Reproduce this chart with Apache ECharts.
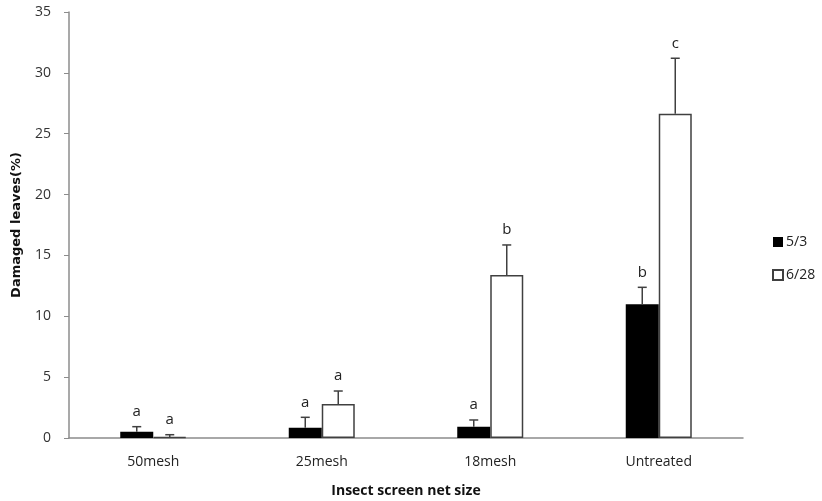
<!DOCTYPE html>
<html>
<head>
<meta charset="utf-8">
<script src="https://cdn.jsdelivr.net/npm/echarts@6/dist/echarts.min.js"></script>
<style>
  html, body { margin: 0; padding: 0; background: #fff; }
  #chart { width: 822px; height: 501px; }
</style>
</head>
<body>
<div id="chart"></div>
<script>
// Insect screen net trial: share of damaged leaves on two survey dates
const categories = ['50mesh', '25mesh', '18mesh', 'Untreated'];
const seriesNames = ['5/3', '6/28'];

const may3 = [0.52, 0.85, 0.93, 10.98];
const may3Err = [0.41, 0.85, 0.55, 1.40];
const may3Letters = ['a', 'a', 'a', 'b'];

const jun28 = [0.08, 2.79, 13.39, 26.65];
const jun28Err = [0.19, 1.07, 2.47, 4.55];
const jun28Letters = ['a', 'a', 'b', 'c'];

const yTicks = [0, 5, 10, 15, 20, 25, 30, 35];

const FONT = 'Open Sans';
const BAR_W = 33;
const INK = '#404040';

// Upper error bar with cap plus significance letter, offset to sit on its bar
function errorSeries(values, errs, letters, side) {
  return {
    type: 'custom',
    z: 5,
    silent: true,
    data: values.map((v, i) => [i, v, v + errs[i], letters[i]]),
    encode: { x: 0, y: [1, 2] },
    renderItem: function (params, api) {
      const i = api.value(0);
      const base = api.coord([i, api.value(1)]);
      const top = api.coord([i, api.value(2)]);
      const x = base[0] + side * BAR_W / 2;
      const cap = 4.5;
      const lineStyle = { stroke: INK, lineWidth: 1.5 };
      return {
        type: 'group',
        children: [
          { type: 'line', shape: { x1: x, y1: base[1], x2: x, y2: top[1] }, style: lineStyle },
          { type: 'line', shape: { x1: x - cap, y1: top[1], x2: x + cap, y2: top[1] }, style: lineStyle },
          {
            type: 'text',
            style: {
              x: x, y: top[1] - 15,
              text: letters[i],
              align: 'center', verticalAlign: 'middle',
              fill: '#222', font: '15px "' + FONT + '"'
            }
          }
        ]
      };
    }
  };
}

const chart = echarts.init(document.getElementById('chart'), null, { renderer: 'canvas' });

chart.setOption({
  animation: false,
  backgroundColor: '#ffffff',
  textStyle: { fontFamily: FONT },
  grid: { left: 69, right: 79, top: 12, bottom: 63, outerBoundsMode: 'none', containLabel: false },
  legend: {
    orient: 'vertical',
    left: 767,
    top: 230,
    itemWidth: 10,
    itemHeight: 10,
    itemGap: 19,
    icon: 'rect',
    textStyle: { fontFamily: FONT, fontSize: 14, color: '#222', padding: [0, 0, 0, -2] },
    data: seriesNames
  },
  xAxis: {
    type: 'category',
    data: categories,
    name: 'Insect screen net size',
    nameLocation: 'middle',
    nameGap: 46,
    nameTextStyle: { fontFamily: FONT, fontSize: 14, fontWeight: 'bold', color: '#111' },
    axisLine: { lineStyle: { color: '#8c8c8c', width: 1.5 } },
    axisTick: { show: false },
    axisLabel: { fontFamily: FONT, fontSize: 14, color: '#222', margin: 17 }
  },
  yAxis: {
    type: 'value',
    min: yTicks[0],
    max: yTicks[yTicks.length - 1],
    interval: yTicks[1] - yTicks[0],
    name: 'Damaged leaves(%)',
    nameLocation: 'middle',
    nameGap: 46,
    nameTextStyle: { fontFamily: 'DejaVu Sans', fontSize: 13, fontWeight: 'bold', color: '#111' },
    axisLine: { show: true, lineStyle: { color: '#8c8c8c', width: 1.5 } },
    axisTick: { show: true, length: 5, lineStyle: { color: '#8c8c8c', width: 1 } },
    axisLabel: { fontFamily: FONT, fontSize: 14, color: '#333', margin: 18 },
    splitLine: { show: false }
  },
  series: [
    {
      name: seriesNames[0],
      type: 'bar',
      data: may3,
      barWidth: BAR_W,
      barGap: '0%',
      itemStyle: { color: '#000000', borderColor: '#000000', borderWidth: 0 }
    },
    {
      name: seriesNames[1],
      type: 'bar',
      data: jun28,
      barWidth: BAR_W,
      barGap: '0%',
      itemStyle: { color: '#ffffff', borderColor: INK, borderWidth: 1.5 }
    },
    errorSeries(may3, may3Err, may3Letters, -1),
    errorSeries(jun28, jun28Err, jun28Letters, 1)
  ]
});
</script>
</body>
</html>
